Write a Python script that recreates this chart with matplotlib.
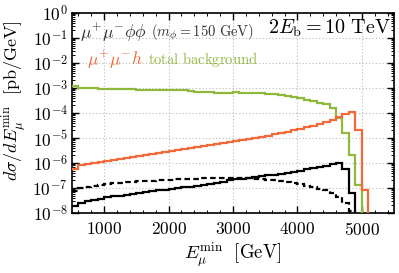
import numpy as np
import matplotlib
matplotlib.use("Agg")
import matplotlib.pyplot as plt
from matplotlib.ticker import MultipleLocator, LogLocator, NullFormatter

plt.rcParams['font.family'] = 'serif'
plt.rcParams['font.serif'] = ['cmr10', 'DejaVu Serif']
plt.rcParams['mathtext.fontset'] = 'cm'
plt.rcParams['axes.formatter.use_mathtext'] = True

# bin edges (GeV)
edges = np.arange(500, 5201, 100)

bkg_total = [1.15e-3, 9.8e-4, 9.7e-4, 9.6e-4, 9.5e-4, 9.4e-4, 9.2e-4, 9.0e-4, 8.9e-4, 8.8e-4,
             8.7e-4, 8.6e-4, 8.4e-4, 8.3e-4, 8.1e-4, 8.0e-4, 8.0e-4, 8.3e-4, 7.3e-4, 7.2e-4,
             7.0e-4, 6.8e-4, 6.5e-4, 6.3e-4, 6.6e-4, 6.7e-4, 6.6e-4, 6.5e-4, 6.3e-4, 6.1e-4,
             5.8e-4, 5.5e-4, 5.1e-4, 4.8e-4, 4.3e-4, 4.0e-4, 3.3e-4, 2.9e-4, 2.6e-4, 2.2e-4,
             1.6e-4, 6.5e-5, 1.6e-5, 2.1e-6, 1.3e-7, 1e-12, 1e-12]

mumuh = [6.0e-7, 8.3e-7, 9.3e-7, 1.0e-6, 1.1e-6, 1.2e-6, 1.35e-6, 1.5e-6, 1.6e-6, 1.75e-6,
         1.9e-6, 2.05e-6, 2.3e-6, 2.5e-6, 2.8e-6, 3.1e-6, 3.4e-6, 3.7e-6, 4.0e-6, 4.4e-6,
         4.8e-6, 5.2e-6, 5.7e-6, 6.2e-6, 6.8e-6, 7.4e-6, 8.1e-6, 9.0e-6, 1.0e-5, 1.1e-5,
         1.25e-5, 1.4e-5, 1.6e-5, 1.8e-5, 2.05e-5, 2.3e-5, 2.7e-5, 3.1e-5, 3.6e-5, 4.3e-5,
         5.2e-5, 7.0e-5, 9.5e-5, 1.05e-4, 2.1e-5, 8.3e-8, 1e-12]

signal_solid = [1.95e-8, 2.6e-8, 3.0e-8, 3.4e-8, 3.8e-8, 4.2e-8, 4.6e-8, 5.0e-8, 5.4e-8, 5.9e-8,
                6.4e-8, 6.9e-8, 7.4e-8, 8.0e-8, 8.6e-8, 9.2e-8, 9.9e-8, 1.06e-7, 1.14e-7, 1.24e-7,
                1.35e-7, 1.47e-7, 1.62e-7, 1.8e-7, 2.0e-7, 2.2e-7, 2.35e-7, 2.5e-7, 2.7e-7, 2.95e-7,
                3.2e-7, 3.45e-7, 3.75e-7, 4.1e-7, 4.5e-7, 5.0e-7, 5.5e-7, 6.1e-7, 6.9e-7, 7.8e-7,
                9.0e-7, 9.6e-7, 5.6e-7, 6.6e-8, 1e-12, 1e-12, 1e-12]

signal_dashed = [7.6e-8, 9.7e-8, 1.1e-7, 1.2e-7, 1.35e-7, 1.45e-7, 1.55e-7, 1.62e-7, 1.7e-7, 1.78e-7,
                 1.85e-7, 1.92e-7, 1.98e-7, 2.05e-7, 2.1e-7, 2.15e-7, 2.2e-7, 2.25e-7, 2.3e-7, 2.35e-7,
                 2.4e-7, 2.45e-7, 2.5e-7, 2.5e-7, 2.5e-7, 2.5e-7, 2.45e-7, 2.4e-7, 2.3e-7, 2.2e-7,
                 2.1e-7, 2.0e-7, 1.85e-7, 1.7e-7, 1.55e-7, 1.4e-7, 1.25e-7, 1.1e-7, 9.5e-8, 8.0e-8,
                 6.2e-8, 4.5e-8, 2.5e-8, 1.2e-8, 1e-12, 1e-12, 1e-12]

green = '#8fb83c'
orange = '#f26a3a'

fig = plt.figure(figsize=(3.99, 2.73), dpi=100)
ax = fig.add_axes([0.1805, 0.2198, 0.807, 0.7326])
ax.set_axisbelow(True)

ax.stairs(bkg_total, edges, baseline=None, color=green, lw=1.6, zorder=3)
ax.stairs(mumuh, edges, baseline=None, color=orange, lw=1.6, zorder=3)
ax.stairs(signal_solid, edges, baseline=None, color='black', lw=1.6, zorder=3)
ax.stairs(signal_dashed, edges, baseline=None, color='black', lw=1.6, linestyle=(0, (2.5, 1.5)), zorder=3)

ax.set_yscale('log')
ax.set_xlim(500, 5500)
ax.set_ylim(1e-8, 1)
ax.xaxis.set_major_locator(MultipleLocator(1000))
ax.xaxis.set_minor_locator(MultipleLocator(200))
ax.yaxis.set_major_locator(LogLocator(base=10, numticks=20))
ax.yaxis.set_minor_locator(LogLocator(base=10, subs=np.arange(2, 10), numticks=100))
ax.yaxis.set_minor_formatter(NullFormatter())

ax.grid(True, which='major', color='#bbbbbb', linestyle=(0, (1, 2)), lw=0.8)
ax.tick_params(which='both', direction='in', top=True, right=True, labelsize=12.5)
ax.tick_params(axis='x', which='major', pad=6)
ax.tick_params(axis='y', which='major', pad=3)
ax.tick_params(which='major', length=5, width=1)
ax.tick_params(which='minor', length=2.5, width=0.7)
for s in ax.spines.values():
    s.set_linewidth(1.2)

ax.set_xlabel(r'$E_\mu^{\min}\ \ [\mathrm{GeV}]$', fontsize=13.5, labelpad=1)
ax.set_ylabel(r'$d\sigma/dE_\mu^{\min}\ \ [\mathrm{pb/GeV}]$', fontsize=13)
ax.yaxis.set_label_coords(-0.135, 0.56)

ax.text(0.025, 0.9, r'$\mu^{+}\mu^{-}\phi\phi$', transform=ax.transAxes, fontsize=12.5,
        color='#333333', va='center', ha='left')
ax.text(0.245, 0.9, r'$(m_\phi = 150\ \mathrm{GeV})$', transform=ax.transAxes, fontsize=10.5,
        color='#333333', va='center', ha='left')
ax.text(0.047, 0.765, r'$\mu^{+}\mu^{-}h$', transform=ax.transAxes, fontsize=12.5,
        color=orange, va='center', ha='left')
ax.text(0.236, 0.765, r'$\mathrm{total\ background}$', transform=ax.transAxes, fontsize=10.5,
        color=green, va='center', ha='left')
ax.text(0.99, 0.925, r'$2E_{\mathrm{b}} = 10\ \mathrm{TeV}$', transform=ax.transAxes, fontsize=14.5,
        color='black', va='center', ha='right')

fig.savefig('out.png', dpi=100)
